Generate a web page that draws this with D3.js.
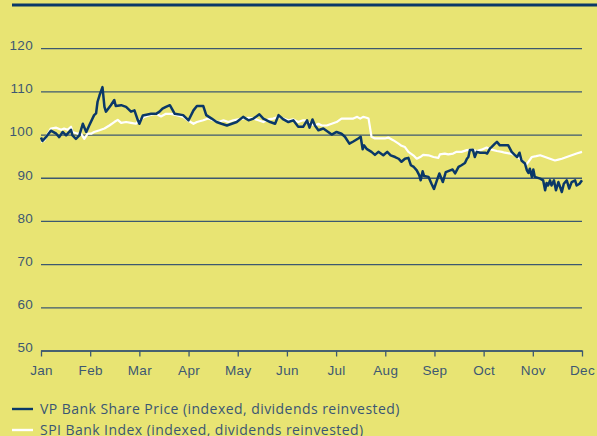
<!DOCTYPE html>
<html lang="en">
<head>
<meta charset="utf-8">
<title>VP Bank vs SPI Bank</title>
<script src="https://cdn.jsdelivr.net/npm/d3@7/dist/d3.min.js"></script>
<style>
  body { margin: 0; background: #e8e473; }
  svg { display: block; font-family: "Open Sans", sans-serif; }
  .tick text { fill: #3d5872; }
</style>
</head>
<body>
<script>
// month labels, x positions are month index (0 = Jan ... 11 = Dec)
var months = ["Jan", "Feb", "Mar", "Apr", "May", "Jun", "Jul", "Aug", "Sep", "Oct", "Nov", "Dec"];
var yTicks = [50, 60, 70, 80, 90, 100, 110, 120];

// VP Bank share price (indexed)
var vpT = [0.00,0.03,0.10,0.20,0.31,0.37,0.44,0.51,0.61,0.64,0.71,0.78,0.85,0.92,0.98,1.08,1.12,1.15,1.19,1.25,
  1.29,1.32,1.42,1.49,1.52,1.63,1.73,1.83,1.90,1.97,2.00,2.07,2.24,2.34,2.41,2.47,2.54,2.62,2.72,2.89,
  3.00,3.10,3.17,3.30,3.36,3.47,3.57,3.67,3.78,3.88,3.98,4.11,4.22,4.32,4.44,4.52,4.66,4.76,4.83,4.93,
  5.03,5.13,5.23,5.33,5.41,5.46,5.52,5.57,5.64,5.74,5.84,5.91,6.01,6.11,6.18,6.27,6.35,6.45,6.50,6.54,
  6.57,6.62,6.72,6.79,6.86,6.96,7.04,7.11,7.20,7.27,7.33,7.40,7.47,7.52,7.58,7.64,7.69,7.72,7.76,7.79,
  7.88,7.94,7.99,8.05,8.10,8.17,8.23,8.32,8.37,8.42,8.49,8.55,8.62,8.66,8.69,8.72,8.78,8.82,8.86,8.93,
  9.03,9.07,9.13,9.16,9.23,9.27,9.33,9.50,9.57,9.64,9.68,9.73,9.77,9.84,9.88,9.91,9.94,9.98,10.01,10.04,
  10.15,10.21,10.25,10.28,10.31,10.35,10.38,10.43,10.47,10.52,10.59,10.63,10.69,10.74,10.79,10.86,10.89,10.95,11.00];
var vpV = [99.3,98.5,99.4,100.9,100.2,99.4,100.6,99.8,101.1,99.8,99.0,99.8,102.5,100.6,102.1,104.5,104.9,107.6,109.1,111.0,
  106.4,105.3,106.8,108.0,106.6,106.8,106.4,105.3,105.6,103.3,102.5,104.4,104.8,104.8,105.3,106.0,106.4,106.8,104.8,104.5,
  103.3,105.6,106.6,106.6,104.5,103.7,102.9,102.5,102.1,102.5,102.9,104.1,103.3,103.7,104.7,103.7,102.9,102.5,104.5,103.5,
  102.9,103.3,101.8,101.8,103.3,101.6,103.5,102.1,101.0,101.4,100.6,100.0,100.6,100.2,99.5,97.9,98.4,99.1,99.5,96.6,
  97.5,96.7,96.0,95.3,96.0,95.2,96.0,95.2,94.8,94.4,93.7,94.4,94.6,92.9,92.5,91.7,90.6,89.4,91.5,90.4,
  90.2,88.6,87.4,89.4,91.0,89.0,91.3,91.7,91.9,91.0,92.5,92.9,93.4,94.4,94.8,96.4,96.5,94.8,96.0,95.8,
  95.8,95.6,96.8,97.1,97.9,98.3,97.5,97.5,96.0,95.2,94.8,95.8,94.0,93.3,91.7,91.1,92.1,90.2,91.9,90.2,
  89.8,89.4,87.1,88.8,88.2,89.4,88.2,89.4,87.1,89.0,86.7,88.6,89.4,87.5,89.0,89.4,88.2,88.6,89.4];

// SPI Bank index (indexed)
var spiT = [0.00,0.07,0.14,0.20,0.31,0.41,0.47,0.54,0.61,0.64,0.75,0.81,0.88,0.95,1.02,1.08,1.19,1.29,1.39,1.49,
  1.56,1.63,1.73,1.83,1.93,2.00,2.10,2.24,2.34,2.44,2.54,2.64,2.76,2.89,3.00,3.10,3.17,3.30,3.40,3.50,
  3.61,3.71,3.81,3.91,4.01,4.11,4.22,4.32,4.42,4.52,4.62,4.72,4.83,4.93,5.03,5.13,5.23,5.33,5.37,5.47,
  5.57,5.64,5.71,5.81,5.91,6.01,6.11,6.22,6.35,6.43,6.49,6.55,6.62,6.66,6.72,6.79,6.89,6.99,7.06,7.16,
  7.27,7.33,7.40,7.47,7.57,7.64,7.71,7.77,7.88,7.98,8.08,8.11,8.21,8.28,8.38,8.45,8.55,8.66,8.76,8.86,
  8.96,9.06,9.16,9.27,9.37,9.43,9.54,9.64,9.74,9.81,9.86,9.91,9.98,10.07,10.15,10.25,10.35,10.45,10.52,10.59,
  10.69,10.79,10.89,11.00];
var spiV = [98.3,98.7,100.2,101.4,101.6,101.1,101.4,101.1,101.8,100.6,100.2,100.3,99.0,100.2,100.2,100.6,101.0,101.4,102.1,102.9,
  103.4,102.7,102.9,102.7,102.5,103.3,104.1,104.6,104.8,104.2,104.8,104.8,104.5,104.1,103.2,102.5,102.9,103.3,103.7,103.3,
  102.9,103.3,102.9,103.3,103.5,103.7,103.9,103.7,103.3,102.9,103.5,103.7,104.1,103.7,103.3,103.5,102.9,103.3,103.3,102.5,
  102.1,102.5,102.1,102.1,102.5,102.9,103.7,103.7,103.7,104.1,103.7,104.1,103.9,103.7,99.5,99.1,99.1,99.1,99.3,98.7,
  97.9,97.4,97.1,96.0,95.2,94.4,94.8,95.3,95.2,94.8,94.6,95.4,95.6,95.4,95.6,96.0,96.0,96.4,96.5,96.2,
  96.5,97.0,96.5,96.2,96.0,95.8,95.6,95.2,94.4,93.7,92.9,93.7,94.8,95.0,95.2,94.8,94.4,94.0,94.2,94.4,
  94.8,95.2,95.6,96.0];

var width = 597, height = 436;
var navy = "#0a3868", textCol = "#3a5673", gridCol = "#3c5870";

var svg = d3.select("body").append("svg")
  .attr("width", width).attr("height", height);

var x = d3.scaleLinear().domain([0, 11]).range([41, 582]);
var y = d3.scaleLinear().domain([50, 130]).range([350.5, 5]);

// top rule
svg.append("line")
  .attr("x1", 12).attr("x2", width)
  .attr("y1", y(130)).attr("y2", y(130))
  .attr("stroke", navy).attr("stroke-width", 3);

// gridlines + y labels
var yAxis = svg.append("g")
  .attr("transform", "translate(41,0)")
  .call(d3.axisLeft(y).tickValues(yTicks).tickSize(-541).tickPadding(8));
yAxis.select(".domain").remove();
yAxis.selectAll(".tick line").attr("stroke", gridCol).attr("stroke-width", 1.3);
yAxis.selectAll(".tick text").attr("font-size", 13.5).attr("x", -8).attr("dy", "0.1em")
  .attr("letter-spacing", 0.3).attr("fill", textCol);

// x axis
var xAxis = svg.append("g")
  .attr("transform", "translate(0," + y(50) + ")")
  .call(d3.axisBottom(x).tickValues(d3.range(12)).tickFormat(function(i) { return months[i]; })
    .tickSize(6).tickSizeOuter(0).tickPadding(9));
xAxis.select(".domain").attr("stroke", gridCol).attr("stroke-width", 1.3);
xAxis.selectAll(".tick line").attr("stroke", gridCol).attr("stroke-width", 1.3);
xAxis.selectAll(".tick text").attr("font-size", 13.5).attr("letter-spacing", 0.3).attr("fill", textCol);

var line = d3.line()
  .x(function(d) { return x(d[0]); })
  .y(function(d) { return y(d[1]); });

var spi = d3.zip(spiT, spiV);
var vp = d3.zip(vpT, vpV);

svg.append("path").datum(spi)
  .attr("d", line).attr("fill", "none")
  .attr("stroke", "#ffffff").attr("stroke-width", 2.2).attr("stroke-linejoin", "round");

svg.append("path").datum(vp)
  .attr("d", line).attr("fill", "none")
  .attr("stroke", navy).attr("stroke-width", 2.5).attr("stroke-linejoin", "round");

// legend
var legend = [
  { label: "VP Bank Share Price (indexed, dividends reinvested)", color: navy },
  { label: "SPI Bank Index (indexed, dividends reinvested)", color: "#ffffff" }
];
var lg = svg.selectAll(".legend").data(legend).enter().append("g")
  .attr("class", "legend")
  .attr("transform", function(d, i) { return "translate(12," + (409 + i * 21) + ")"; });
lg.append("line").attr("x1", 0).attr("x2", 21)
  .attr("stroke", function(d) { return d.color; }).attr("stroke-width", 2.4);
lg.append("text").attr("x", 28).attr("dy", "0.35em")
  .attr("font-size", 14).attr("letter-spacing", 0.45).attr("fill", textCol)
  .text(function(d) { return d.label; });
</script>
</body>
</html>
